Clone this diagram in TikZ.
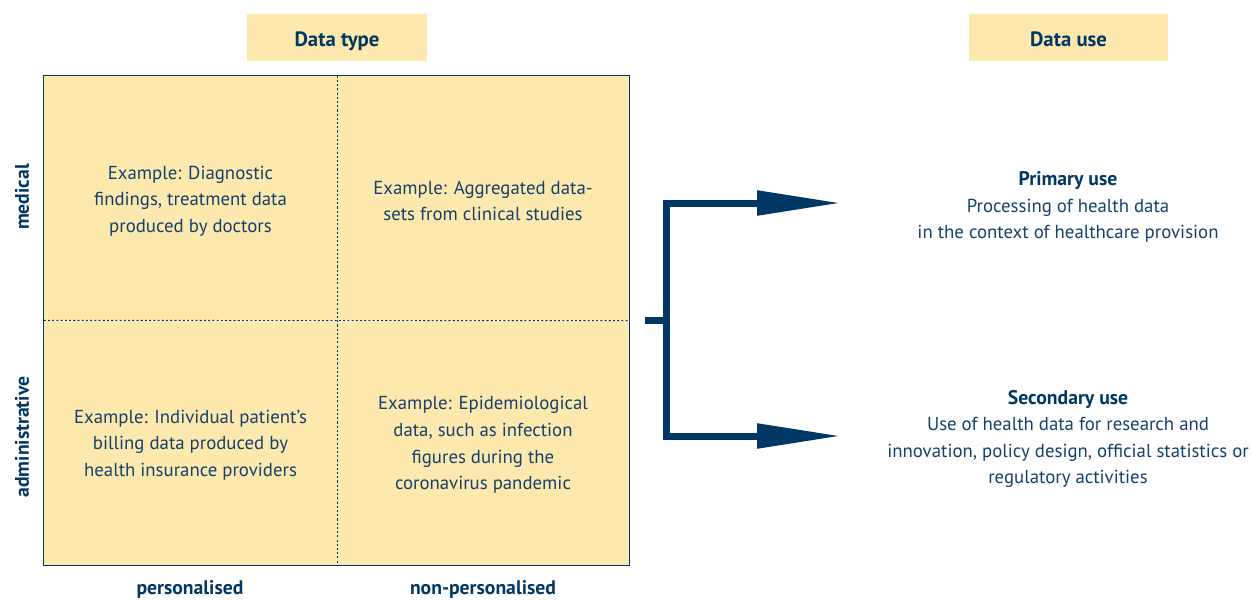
\documentclass[tikz,border=0pt]{standalone}
\usepackage{fontspec}
\setmainfont{PT Sans}
\usepackage{tikz}
\usepackage{xcolor}
\usetikzlibrary{arrows.meta}
\definecolor{navy}{RGB}{0,55,100}
\definecolor{bodyblue}{RGB}{22,64,108}
\definecolor{paleyellow}{RGB}{253,233,174}
\tikzstyle{headbox}=[fill=paleyellow,minimum height=0.94cm,text=navy,font=\fontsize{11.8}{15}\selectfont\bfseries]
\tikzstyle{cellbox}=[fill=paleyellow,minimum width=5.86cm,minimum height=4.88cm,inner sep=0pt]
\tikzstyle{celltext}=[align=center,text=bodyblue,font=\fontsize{10.7}{15.1}\selectfont]
\tikzstyle{axislabel}=[text=navy,font=\fontsize{11.2}{15}\selectfont\bfseries]
\tikzstyle{flowline}=[draw=navy,line width=0.14cm,line join=miter]

\begin{document}
\begin{tikzpicture}[x=0.02cm,y=-0.02cm]
		\useasboundingbox (0,0) rectangle (1253,599);
		% header boxes
		\node [headbox, minimum width=3.6cm] (typeHead) at (337,37.5) {};
		\node [headbox, minimum width=3.98cm] (useHead) at (1068.5,37.5) {};
		\node [headbox, fill=none, minimum height=0pt, anchor=base] (typeTitle) at (337,46) {Data type};
		\node [headbox, fill=none, minimum height=0pt, anchor=base] (useTitle) at (1068.5,46) {Data use};
		
		% the four quadrants
		\node [cellbox] (cellMedPers) at (190.5,198) {};
		\node [cellbox] (cellMedNon) at (483,198) {};
		\node [cellbox] (cellAdmPers) at (190.5,443) {};
		\node [cellbox] (cellAdmNon) at (483,443) {};
		\draw [draw=navy, line width=0.6pt] (cellMedPers.north west) rectangle (cellAdmNon.south east);
		\draw [draw=navy, line width=0.5pt, dash pattern=on 1.2pt off 1.2pt] (cellMedPers.north east) -- (cellAdmPers.south east);
		\draw [draw=navy, line width=0.5pt, dash pattern=on 1.2pt off 1.2pt] (cellMedPers.south west) -- (cellAdmNon.north east);
		
		\node [celltext] (textMedPers) at (190.5,201) {Example: Diagnostic\\findings, treatment data\\produced by doctors};
		\node [celltext] (textMedNon) at (483,201) {Example: Aggregated data-\\sets from clinical studies};
		\node [celltext] (textAdmPers) at (190.5,445) {Example: Individual patient's\\billing data produced by\\health insurance providers};
		\node [celltext] (textAdmNon) at (483,445) {Example: Epidemiological\\data, such as infection\\figures during the\\coronavirus pandemic};
		
		% axis labels
		\node [axislabel, rotate=90] (rowMed) at (22,197) {medical};
		\node [axislabel, rotate=90] (rowAdm) at (22,437) {administrative};
		\node [axislabel] (colPers) at (190,589) {personalised};
		\node [axislabel] (colNon) at (483,589) {non-personalised};
		
		% data use
		\node [celltext] (primaryUse) at (1068,207) {{\color{navy}\fontsize{11.2}{15}\selectfont\bfseries Primary use}\\Processing of health data\\in the context of healthcare provision};
		\node [celltext] (secondaryUse) at (1068,439) {{\color{navy}\fontsize{11.2}{15}\selectfont\bfseries Secondary use}\\Use of health data for research and\\innovation, policy design, official statistics or\\regulatory activities};
		
		\coordinate (stub) at (645,320);
		\coordinate (fork) at (666,320);
		\coordinate (tipPrimary) at (841,203);
		\coordinate (tipSecondary) at (841,436);
		\draw [flowline] (stub) -- (fork);
		\draw [flowline, -{Triangle[length=1.68cm,width=0.47cm]}] (fork) |- (tipPrimary);
		\draw [flowline, -{Triangle[length=1.68cm,width=0.47cm]}] (fork) |- (tipSecondary);
	\end{tikzpicture}
\end{document}
